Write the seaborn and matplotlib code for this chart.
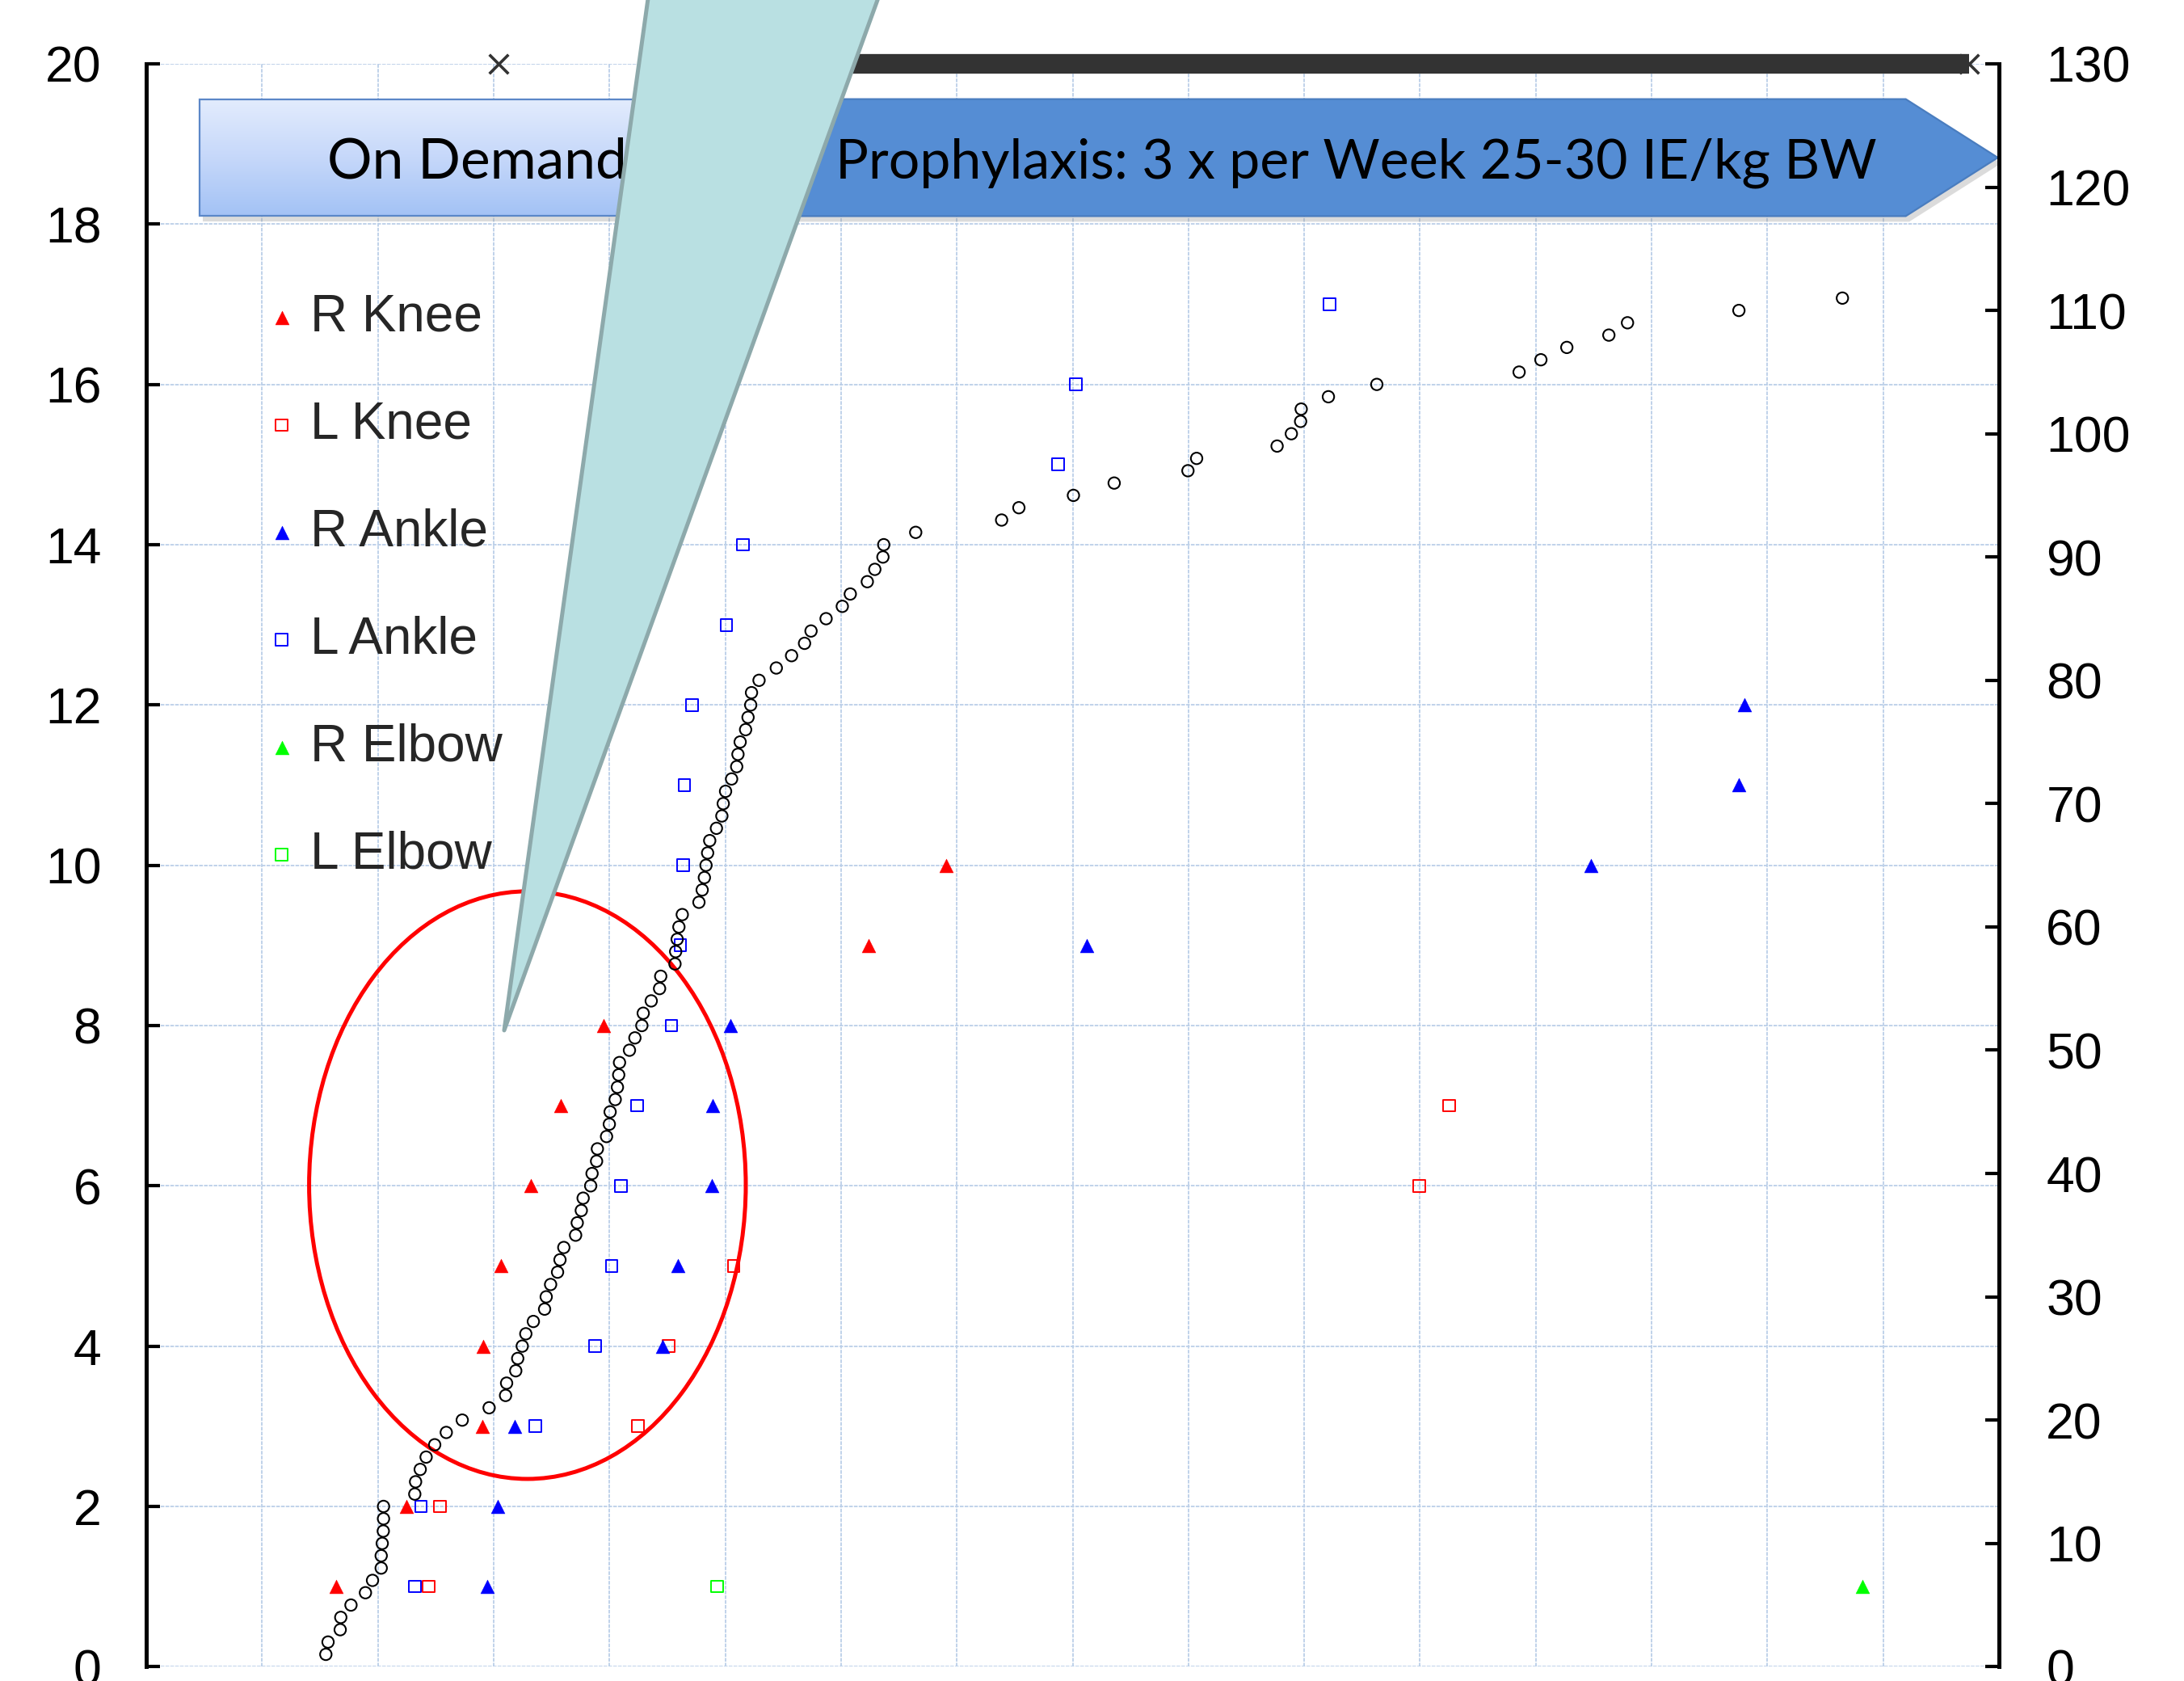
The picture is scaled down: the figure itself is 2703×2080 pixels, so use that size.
import numpy as np
import matplotlib
matplotlib.use("Agg")
import matplotlib.pyplot as plt
import seaborn as sns
import pandas as pd
from matplotlib.patches import Ellipse, Polygon, Rectangle
from matplotlib.colors import LinearSegmentedColormap

# ---------------- data ----------------
# cumulative bleeds (right axis) : time position and running count
cum_x = [1.551, 1.570, 1.675, 1.680, 1.768, 1.893, 1.954, 2.029, 2.029, 2.038,
         2.047, 2.049, 2.049, 2.319, 2.326, 2.366, 2.417, 2.491, 2.591, 2.729,
         2.961, 3.103, 3.112, 3.191, 3.208, 3.247, 3.278, 3.343, 3.440, 3.454,
         3.492, 3.552, 3.573, 3.606, 3.708, 3.722, 3.757, 3.773, 3.838, 3.850,
         3.889, 3.896, 3.975, 3.999, 4.006, 4.050, 4.069, 4.080, 4.087, 4.173,
         4.220, 4.280, 4.292, 4.361, 4.433, 4.443, 4.566, 4.572, 4.585, 4.600,
         4.629, 4.773, 4.801, 4.820, 4.834, 4.848, 4.866, 4.924, 4.971, 4.983,
         5.003, 5.055, 5.099, 5.110, 5.129, 5.176, 5.197, 5.220, 5.227, 5.292,
         5.441, 5.573, 5.685, 5.741, 5.871, 6.011, 6.080, 6.227, 6.292, 6.362,
         6.369, 6.645, 7.387, 7.536, 8.007, 8.359, 8.996, 9.071, 9.766, 9.889,
         9.969, 9.974, 10.209, 10.627, 11.856, 12.044, 12.268, 12.631, 12.792, 13.754,
         14.648]
cum_y = [1, 2, 3, 4, 5, 6, 7, 8, 9, 10, 11, 12, 13, 14, 15, 16, 17, 18, 19, 20,
         21, 22, 23, 24, 25, 26, 27, 28, 29, 30, 31, 32, 33, 34, 35, 36, 37, 38, 39, 40,
         41, 42, 43, 44, 45, 46, 47, 48, 49, 50, 51, 52, 53, 54, 55, 56, 57, 58, 59, 60,
         61, 62, 63, 64, 65, 66, 67, 68, 69, 70, 71, 72, 73, 74, 75, 76, 77, 78, 79, 80,
         81, 82, 83, 84, 85, 86, 87, 88, 89, 90, 91, 92, 93, 94, 95, 96, 97, 98, 99, 100,
         101, 102, 103, 104, 105, 106, 107, 108, 109, 110, 111]

# bleeds per joint (left axis)
r_knee_x = [1.640, 2.245, 2.901, 2.908, 3.066, 3.319, 3.578, 3.950, 6.235, 6.907]
r_knee_y = [1, 2, 3, 4, 5, 6, 7, 8, 9, 10]
l_knee_x = [2.438, 2.536, 4.248, 4.509, 5.073, 10.993, 11.251]
l_knee_y = [1, 2, 3, 4, 5, 6, 7]
r_ankle_x = [2.947, 3.033, 3.184, 4.459, 4.590, 4.887, 4.894, 5.043, 8.125, 12.476, 13.751, 13.799]
r_ankle_y = [1, 2, 3, 4, 5, 6, 7, 8, 9, 10, 11, 12]
l_ankle_x = [2.319, 2.373, 3.361, 3.878, 4.020, 4.099, 4.241, 4.535, 4.613, 4.636,
             4.648, 4.715, 5.010, 5.153, 7.875, 8.028, 10.220]
l_ankle_y = [1, 2, 3, 4, 5, 6, 7, 8, 9, 10, 11, 12, 13, 14, 15, 16, 17]
r_elbow_x = [14.82]
r_elbow_y = [1]
l_elbow_x = [4.932]
l_elbow_y = [1]

# infusions marked at the top (y = 20)
infusion_single_x = [3.04]
infusion_band_x = [5.9, 15.74]
infusion_y = 20

labels = ["R Knee", "L Knee", "R Ankle", "L Ankle", "R Elbow", "L Elbow"]
left_ticks = [0, 2, 4, 6, 8, 10, 12, 14, 16, 18, 20]
right_ticks = [0, 10, 20, 30, 40, 50, 60, 70, 80, 90, 100, 110, 120, 130]
phase_labels = ["On Demand", "Prophylaxis: 3 x per Week 25-30 IE/kg BW"]

# ---------------- style ----------------
sns.set_theme(style="white")
plt.rcParams['font.family'] = ['Liberation Sans', 'DejaVu Sans']

W, H = 2703, 2080
fig = plt.figure(figsize=(W / 100, H / 100), dpi=100)
fig.patch.set_facecolor("white")
ax = fig.add_axes([181 / W, 1 - 2062.3 / H, (2474 - 181) / W, (2062.3 - 79) / H])
ax2 = ax.twinx()

GRID = "#BBCFE8"

# ---------------- joint markers (left axis) ----------------
series = [
    (r_knee_x, r_knee_y, "^", "#FF0000", True),
    (l_knee_x, l_knee_y, "s", "#FF0000", False),
    (r_ankle_x, r_ankle_y, "^", "#0000FF", True),
    (l_ankle_x, l_ankle_y, "s", "#0000FF", False),
    (r_elbow_x, r_elbow_y, "^", "#00FF00", True),
    (l_elbow_x, l_elbow_y, "s", "#00FF00", False),
]
handles = []
for (xs, ys, mk, col, filled), lab in zip(series, labels):
    df = pd.DataFrame({"x": xs, "y": ys})
    n_before = len(ax.collections)
    if filled:
        sns.scatterplot(data=df, x="x", y="y", ax=ax, marker=mk, s=150,
                        color=col, edgecolor=col, linewidth=0.3,
                        label=lab, zorder=4, legend=False)
    else:
        sns.scatterplot(data=df, x="x", y="y", ax=ax, marker=mk, s=112,
                        facecolors="none", edgecolor=col, linewidth=1.4,
                        label=lab, zorder=4, legend=False)
    handles.append(ax.collections[n_before])

# ---------------- cumulative circles (right axis) ----------------
dfc = pd.DataFrame({"x": cum_x, "y": cum_y})
sns.scatterplot(data=dfc, x="x", y="y", ax=ax2, marker="o", s=105,
                facecolors="none", edgecolor="black", linewidth=1.5,
                zorder=4, legend=False)

# ---------------- infusion marks on top ----------------
ax.plot(infusion_band_x, [infusion_y, infusion_y], color="#333333", lw=17.5,
        solid_capstyle="butt", clip_on=False, zorder=5)
dfi = pd.DataFrame({"x": infusion_single_x + [infusion_band_x[1]],
                    "y": [infusion_y, infusion_y]})
sns.scatterplot(data=dfi, x="x", y="y", ax=ax, marker="x", s=290,
                color="#333333", linewidth=2.6, clip_on=False, zorder=5, legend=False)

# ---------------- red ellipse ----------------
ax.add_patch(Ellipse((3.292, 6.009), 3.771, 7.332, fill=False, ec="#FF0000",
                     lw=3.6, zorder=3))

# ---------------- phase banners ----------------
band_lo, band_hi = 18.10, 19.56
od_left, split_x, shoulder_x, tip_x = 0.461, 5.3, 15.195, 15.99
mid = (band_lo + band_hi) / 2
text_base = 18.574
# shadows
ax.add_patch(Rectangle((od_left + 0.03, band_lo - 0.07), split_x - od_left, band_hi - band_lo,
                       fc="#9A9A9A", ec="none", alpha=0.35, zorder=5.5, clip_on=False))
ax.add_patch(Polygon([(split_x, band_hi - 0.07), (shoulder_x + 0.03, band_hi - 0.07),
                      (tip_x + 0.03, mid - 0.07), (shoulder_x + 0.03, band_lo - 0.07),
                      (split_x, band_lo - 0.07)],
                     closed=True, fc="#9A9A9A", ec="none", alpha=0.35, zorder=5.5, clip_on=False))
grad_cmap = LinearSegmentedColormap.from_list("od", ["#A3C2F5", "#C6D8FA", "#E3ECFD"])
grad = np.linspace(0, 1, 256).reshape(-1, 1)
ax.imshow(grad, extent=[od_left, split_x, band_lo, band_hi], origin="lower",
          aspect="auto", cmap=grad_cmap, zorder=6, interpolation="bicubic")
ax.add_patch(Rectangle((od_left, band_lo), split_x - od_left, band_hi - band_lo,
                       fc="none", ec="#5B87C8", lw=1.6, zorder=6.2))
ax.add_patch(Polygon([(split_x, band_hi), (shoulder_x, band_hi), (tip_x, mid),
                      (shoulder_x, band_lo), (split_x, band_lo)], closed=True,
                     fc="#558DD4", ec="#4A7DBF", lw=1.6, zorder=6.5, clip_on=False))
ax.text(2.858, text_base, phase_labels[0], ha="center", va="baseline", fontsize=50,
        family=["Lato", "DejaVu Sans"], color="black", zorder=7)
ax.text(10.446, text_base, phase_labels[1], ha="center", va="baseline", fontsize=49,
        family=["Lato", "DejaVu Sans"], color="black", zorder=7)

# ---------------- axes styling ----------------
ax.set_xlim(0, 16)
ax.set_ylim(0, 20)
ax2.set_ylim(0, 130)
ax.set_xticks(range(0, 17))
ax.set_yticks(left_ticks)
ax2.set_yticks(right_ticks)
ax.set_yticklabels([str(v) for v in left_ticks])
ax2.set_yticklabels([str(v) for v in right_ticks])
ax.set_xlabel("")
ax.set_ylabel("")
ax2.set_xlabel("")
ax2.set_ylabel("")
ax.set_axisbelow(True)
ax.grid(True, color=GRID, lw=1.3, ls=(0, (2.5, 0.8)))
ax2.grid(False)
ax.tick_params(axis="x", length=0, labelbottom=False, bottom=False)
ax.tick_params(axis="y", direction="in", length=12, width=3, colors="black",
               labelsize=45, pad=40, left=True, labelleft=True)
ax2.tick_params(axis="y", direction="in", length=12, width=3, colors="black",
                labelsize=45, pad=42, right=True, labelright=True)
for s in ["top", "bottom", "right"]:
    ax.spines[s].set_visible(False)
ax.spines["left"].set_color("black")
ax.spines["left"].set_linewidth(3.6)
for s in ["top", "bottom", "left"]:
    ax2.spines[s].set_visible(False)
ax2.spines["right"].set_color("black")
ax2.spines["right"].set_linewidth(3.6)

# ---------------- legend ----------------
ax.legend(handles=handles, labels=labels, loc="upper left",
          bbox_to_anchor=(323 / W, 1 - 363 / H), bbox_transform=fig.transFigure,
          frameon=False, fontsize=46, handlelength=0.8, handletextpad=0.16,
          labelspacing=1.14, borderaxespad=0, borderpad=0, scatterpoints=1)

# ---------------- callout wedge ----------------
tip = (3.091, 7.94)
top_left = (4.332, 20.8)
top_right = (6.316, 20.8)
def extend(p, y_new):
    t = (y_new - tip[1]) / (p[1] - tip[1])
    return (tip[0] + t * (p[0] - tip[0]), y_new)
wedge = Polygon([tip, extend(top_left, 22.5), extend(top_right, 22.5)], closed=True,
                fc="#B9E0E2", ec="#8DA9AB", lw=3.6, joinstyle="round",
                transform=ax.transData, zorder=10)
fig.add_artist(wedge)

fig.savefig("out.png", dpi=100, facecolor="white")
